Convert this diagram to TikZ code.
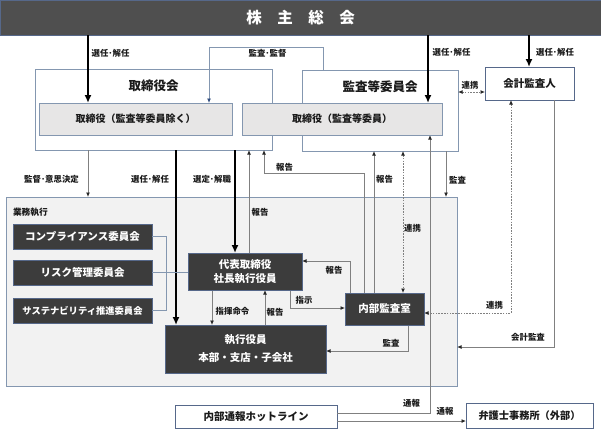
\documentclass[tikz,border=0pt]{standalone}
\usepackage{fontspec}
\setmainfont{Noto Sans CJK JP}
\usetikzlibrary{arrows.meta}
\definecolor{bardark}{HTML}{4F4F4F}
\definecolor{boxdark}{HTML}{3C3C3C}
\definecolor{edgeblue}{HTML}{8497B0}
\definecolor{edgedark}{HTML}{56688A}
\definecolor{lightbox}{HTML}{E7E6E6}
\definecolor{regionfill}{HTML}{F2F2F2}
\definecolor{conn}{HTML}{808080}
\definecolor{labeltext}{HTML}{1A1A1A}
\definecolor{tipblue}{HTML}{2E4A7D}
\tikzset{
  sz/.style 2 args={minimum width=#1pt, minimum height=#2pt},
  every node/.style={inner sep=0pt, outer sep=0pt},
  outerbox/.style={draw=edgeblue, line width=0.9pt, fill=white},
  lightnode/.style={draw=edgeblue, line width=0.9pt, fill=lightbox, font=\bfseries\fontsize{10}{12}\selectfont, text=labeltext},
  whitenode/.style={draw=edgedark, line width=0.9pt, fill=white, font=\bfseries\fontsize{10.5}{12}\selectfont, text=labeltext},
  darknode/.style={draw=edgedark, line width=0.9pt, fill=boxdark, text=white, font=\bfseries\fontsize{10.5}{12}\selectfont, align=center},
  titletext/.style={font=\bfseries\fontsize{12.5}{14}\selectfont, text=labeltext},
  lbl/.style={font=\bfseries\fontsize{8.4}{9}\selectfont, text=labeltext},
  thk/.style={line width=2.6pt, -{Latex[length=8pt,width=7pt]}},
  thn/.style={draw=conn, line width=0.9pt, -{Latex[length=4.5pt,width=4pt,color=black!85]}},
  dsh/.style={draw=conn, line width=0.9pt, dash pattern=on 1.6pt off 1.2pt, {Latex[length=4.5pt,width=4pt,color=black!85]}-{Latex[length=4.5pt,width=4pt,color=black!85]}},
  bluethin/.style={draw=edgeblue, line width=0.9pt, -{Latex[length=4.5pt,width=4pt,color=tipblue]}},
  bracketline/.style={draw=edgeblue, line width=0.9pt}
}
\begin{document}
\begin{tikzpicture}[x=1pt,y=-1pt]
\useasboundingbox (0,0) rectangle (601,429);

% background areas
\node[draw=edgeblue, line width=0.9pt, fill=regionfill, sz={451}{189}] (gyomu) at (231.5,291.5) {};
\node[lbl, font=\bfseries\fontsize{8.7}{10}\selectfont, anchor=west] (gyomuT) at (13,212) {業務執行};
\node[outerbox, sz={237}{81}] (torikai) at (153.5,109.5) {};
\node[titletext] (torikaiT) at (153.5,86) {取締役会};
\node[outerbox, sz={156}{81}] (kansakai) at (380,110.5) {};
\node[titletext] (kansakaiT) at (380,87) {監査等委員会};

% top bar
\node[draw=edgedark, line width=0.9pt, fill=bardark, sz={601}{35}, text=white, font=\bfseries\fontsize{15.5}{17}\selectfont] (kabu) at (300.5,17.5) {株　主　総　会};

% helper coordinates
\coordinate (xa) at (88,0);
\coordinate (xb) at (428,0);
\coordinate (xc) at (529,0);
\coordinate (xd1) at (323,0);
\coordinate (xd2) at (209,0);
\coordinate (yd) at (0,47);
\coordinate (xf) at (176,0);
\coordinate (xg) at (235,0);
\coordinate (xh) at (249,0);
\coordinate (xi1) at (364,0);
\coordinate (xi2) at (264,0);
\coordinate (yi) at (0,173);
\coordinate (xj) at (374,0);
\coordinate (xk) at (403,0);
\coordinate (xl) at (446,0);
\coordinate (xm) at (430,0);
\coordinate (ym) at (0,413);
\coordinate (yn) at (0,421);
\coordinate (xo) at (511,0);
\coordinate (yo) at (0,313);
\coordinate (xp) at (554,0);
\coordinate (yp) at (0,347);
\coordinate (yq) at (0,92);
\coordinate (xr) at (212,0);
\coordinate (xs) at (265,0);
\coordinate (xt) at (290,0);
\coordinate (yt) at (0,308);
\coordinate (xu) at (350,0);
\coordinate (yu) at (0,261);
\coordinate (xv) at (408,0);
\coordinate (yv) at (0,351);
\coordinate (xw) at (166,0);

% nodes (placed first for anchors, drawn again on top below)
\path
  node[lightnode, sz={193}{32}] (tori1) at (135.5,119) {取締役（監査等委員除く）}
  node[lightnode, sz={200}{32}] (tori2) at (342,119) {取締役（監査等委員）}
  node[whitenode, sz={89}{33}] (kaikei) at (529.5,83.5) {会計監査人}
  node[darknode, sz={139}{25}] (comp) at (82.5,236.5) {コンプライアンス委員会}
  node[darknode, sz={139}{25}] (risk) at (82.5,272.5) {リスク管理委員会}
  node[darknode, sz={139}{25}, font=\bfseries\fontsize{9.3}{11}\selectfont] (sust) at (82.5,310.5) {サステナビリティ推進委員会}
  node[darknode, sz={114}{37}, font=\bfseries\fontsize{10.5}{13.5}\selectfont] (ceo) at (245,271.5) {代表取締役\\社長執行役員}
  node[darknode, sz={161}{48}, font=\bfseries\fontsize{10.5}{18}\selectfont] (exec) at (245.5,349) {執行役員\\本部・支店・子会社}
  node[darknode, sz={79}{32}] (audit) at (384.5,309) {内部監査室}
  node[whitenode, sz={162}{23}] (hotline) at (256,416.5) {内部通報ホットライン}
  node[whitenode, sz={127}{25}, font=\bfseries\fontsize{10.2}{12}\selectfont] (lawyer) at (529.5,415.5) {弁護士事務所（外部）};

% connectors
\draw[thk] (kabu.south -| xa) -- (tori1.north -| xa);
\draw[thk] (kabu.south -| xb) -- (tori2.north -| xb);
\draw[thk] (kabu.south -| xc) -- (kaikei.north -| xc);
\draw[bluethin] (kansakai.north -| xd1) -- (yd -| xd1) -- (yd -| xd2) -- (tori1.north -| xd2);
\draw[dsh] (kansakai.east |- yq) -- (kaikei.west |- yq);
\draw[thn] (torikai.south -| xa) -- (gyomu.north -| xa);
\draw[thk] (torikai.south -| xf) -- (exec.north -| xf);
\draw[thk] (torikai.south -| xg) -- (ceo.north -| xg);
\draw[thn] (ceo.north -| xh) -- (torikai.south -| xh);
\draw[thn] (audit.north -| xi1) -- (yi -| xi1) -- (yi -| xi2) -- (torikai.south -| xi2);
\draw[thn] (audit.north -| xj) -- (kansakai.south -| xj);
\draw[dsh] (kansakai.south -| xk) -- (audit.north -| xk);
\draw[thn] (kansakai.south -| xl) -- (gyomu.north -| xl);
\draw[thn] (hotline.east |- ym) -- (ym -| xm) -- (tori2.south -| xm);
\draw[thn] (hotline.east |- yn) -- (lawyer.west |- yn);
\draw[dsh] (kaikei.south -| xo) -- (yo -| xo) -- (audit.east |- yo);
\draw[thn] (kaikei.south -| xp) -- (yp -| xp) -- (gyomu.east |- yp);
\draw[thn] (ceo.south -| xr) -- (exec.north -| xr);
\draw[thn] (exec.north -| xs) -- (ceo.south -| xs);
\draw[thn] (ceo.south -| xt) -- (yt -| xt) -- (audit.west |- yt);
\draw[thn] (audit.north -| xu) -- (yu -| xu) -- (ceo.east |- yu);
\draw[thn] (audit.south -| xv) -- (yv -| xv) -- (exec.east |- yv);
\draw[bracketline] (comp.east) -- (comp.east -| xw) -- (sust.east -| xw) -- (sust.east);
\draw[bracketline] (risk.east) -- (risk.east -| ceo.west);

% redraw boxes on top of the connectors
\path
  node[lightnode, sz={193}{32}] (tori1b) at (tori1) {取締役（監査等委員除く）}
  node[lightnode, sz={200}{32}] (tori2b) at (tori2) {取締役（監査等委員）}
  node[darknode, sz={114}{37}, font=\bfseries\fontsize{10.5}{13.5}\selectfont] (ceob) at (ceo) {代表取締役\\社長執行役員}
  node[darknode, sz={161}{48}, font=\bfseries\fontsize{10.5}{18}\selectfont] (execb) at (exec) {執行役員\\本部・支店・子会社}
  node[darknode, sz={79}{32}] (auditb) at (audit) {内部監査室};

% labels
\node[lbl] (l1) at (110.5,53) {選任･解任};
\node[lbl] (l2) at (451.5,52) {選任･解任};
\node[lbl] (l3) at (555,52) {選任･解任};
\node[lbl] (l4) at (267.5,53) {監査･監督};
\node[lbl] (l5) at (470,85) {連携};
\node[lbl] (l6) at (51.5,179) {監督･意思決定};
\node[lbl] (l7) at (150,179) {選任･解任};
\node[lbl] (l8) at (212,179) {選定･解職};
\node[lbl] (l9) at (284.5,167) {報告};
\node[lbl] (l10) at (260,212) {報告};
\node[lbl] (l11) at (384.5,179) {報告};
\node[lbl] (l12) at (412.5,228) {連携};
\node[lbl] (l13) at (457.5,180) {監査};
\node[lbl] (l14) at (334,270) {報告};
\node[lbl] (l15) at (304,300) {指示};
\node[lbl] (l16) at (232.5,311.5) {指揮命令};
\node[lbl] (l17) at (275,312) {報告};
\node[lbl] (l18) at (391,343) {監査};
\node[lbl] (l19) at (494.5,305) {連携};
\node[lbl] (l20) at (528,337) {会計監査};
\node[lbl] (l21) at (411.5,403) {通報};
\node[lbl] (l22) at (445,411.5) {通報};
\end{tikzpicture}
\end{document}
